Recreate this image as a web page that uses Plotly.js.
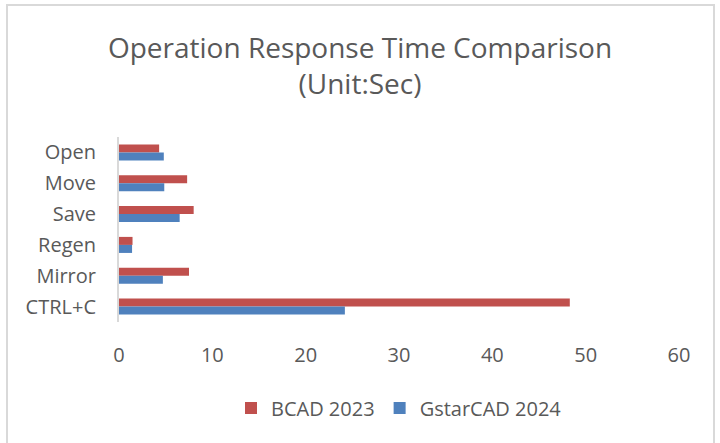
<!DOCTYPE html>
<html>
<head>
<meta charset="utf-8">
<script src="https://cdn.plot.ly/plotly-3.0.1.min.js"></script>
<style>
  html, body { margin: 0; padding: 0; background: #fff; }
  #wrap { position: relative; width: 720px; height: 443px; }
  #chart { width: 720px; height: 443px; }
  #frame { position: absolute; left: 6px; top: 4px; width: 709px; height: 444px; border: 2px solid #d9d9d9; box-sizing: border-box; pointer-events: none; }
</style>
</head>
<body>
<div id="wrap">
  <div id="chart"></div>
  <div id="frame"></div>
</div>
<script>
const categories = ['Open', 'Move', 'Save', 'Regen', 'Mirror', 'CTRL+C'];
const bcad2023 = [4.3, 7.3, 8.0, 1.45, 7.5, 48.3];
const gstarcad2024 = [4.8, 4.85, 6.5, 1.4, 4.7, 24.2];
const xTicks = [0, 10, 20, 30, 40, 50, 60];

const font = "'Open Sans', 'Noto Sans', sans-serif";
const grey = '#595959';

const traces = [
  { type: 'bar', orientation: 'h', name: 'BCAD 2023', y: categories, x: bcad2023,
    marker: { color: '#c0504d' } },
  { type: 'bar', orientation: 'h', name: 'GstarCAD 2024', y: categories, x: gstarcad2024,
    marker: { color: '#4f81bd' } }
];

const layout = {
  width: 720, height: 443,
  margin: { l: 119, r: 41, t: 137, b: 121 },
  paper_bgcolor: '#ffffff', plot_bgcolor: '#ffffff',
  font: { family: font, color: grey, size: 20 },
  title: {
    text: 'Operation Response Time Comparison<br>(Unit:Sec)',
    font: { family: font, size: 28, color: grey },
    x: 0.5, xanchor: 'center', y: 0.87, yanchor: 'top'
  },
  barmode: 'group', bargap: 0.48, bargroupgap: 0,
  xaxis: {
    range: [0, 60], tickvals: xTicks, ticktext: xTicks.map(String),
    showgrid: false, zeroline: false, showline: false, ticks: '',
    ticklabelstandoff: 19,
    tickfont: { family: font, size: 20, color: grey }, fixedrange: true
  },
  yaxis: {
    type: 'category', categoryorder: 'array', categoryarray: categories,
    autorange: 'reversed', showgrid: false, zeroline: false,
    showline: true, linecolor: '#d9d9d9', linewidth: 2, ticks: '',
    ticklabelstandoff: 17,
    tickfont: { family: font, size: 20, color: grey }
  },
  legend: {
    orientation: 'h', x: 0.5, xanchor: 'center', y: -0.36, yanchor: 'top',
    font: { family: font, size: 20, color: grey }, itemwidth: 30
  },
  showlegend: true
};

Plotly.newPlot('chart', traces, layout, { staticPlot: true, displayModeBar: false });
</script>
</body>
</html>
